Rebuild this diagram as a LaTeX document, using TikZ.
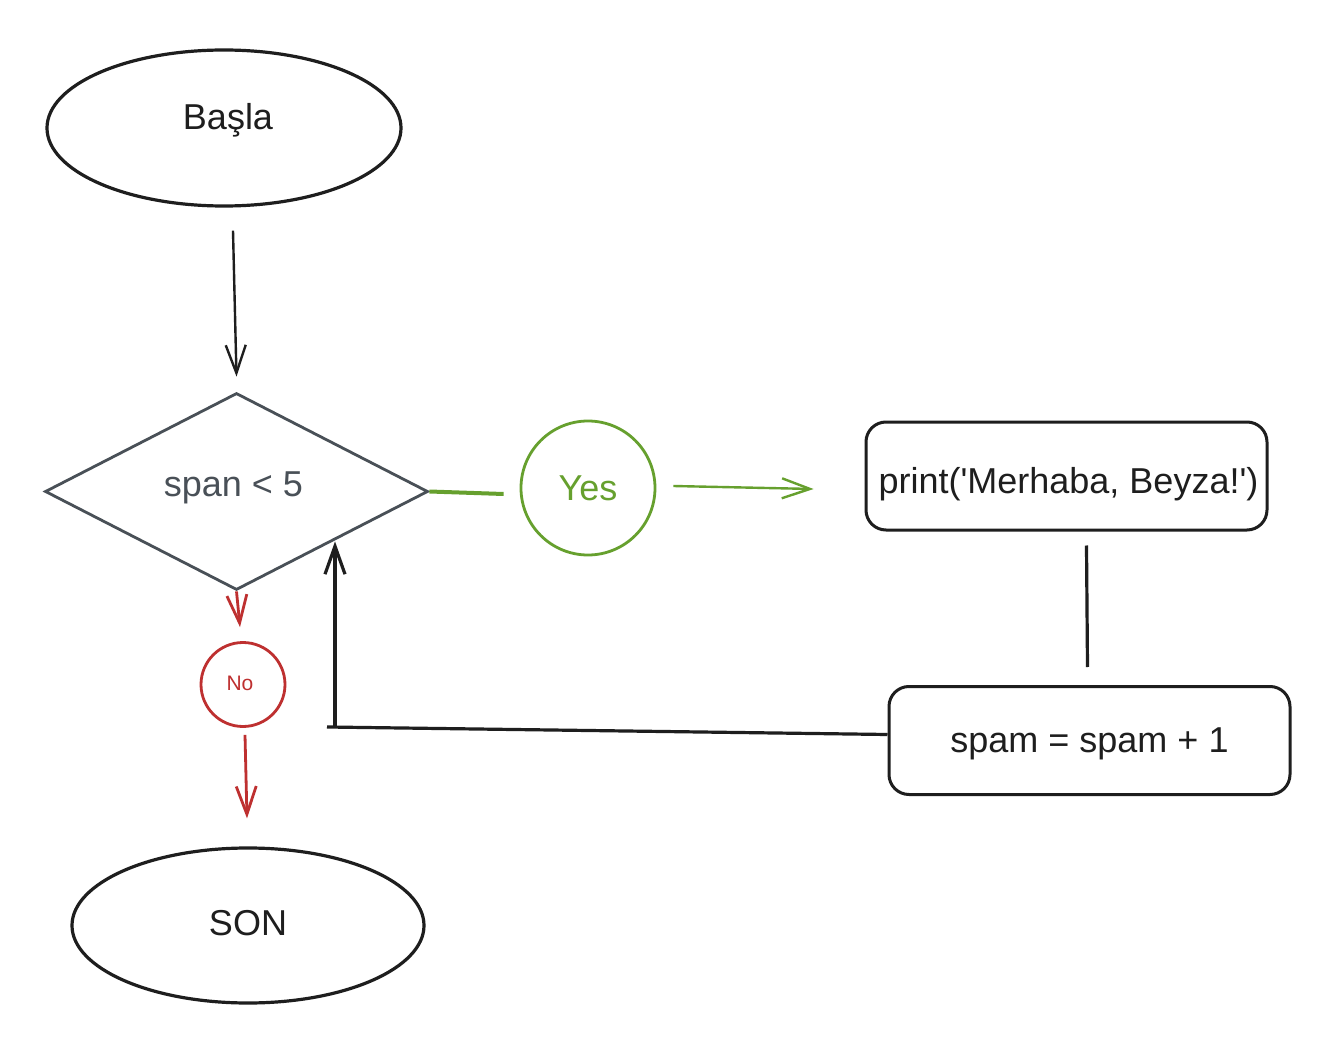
\documentclass[tikz,border=0pt]{standalone}
\usepackage{fontspec}
\setmainfont{Liberation Sans}[Ligatures=TeXOff]
\usetikzlibrary{shapes.geometric,arrows.meta}
\definecolor{ink}{HTML}{1E1E1E}
\definecolor{slate}{HTML}{495057}
\definecolor{leaf}{HTML}{66A02E}
\definecolor{brick}{HTML}{BE3030}
\begin{document}
\begin{tikzpicture}[x=0.5pt,y=-0.5pt,
  every node/.style={font=\fontsize{18}{22}\selectfont, text=ink, inner sep=0pt},
  terminal/.style={draw=ink, line width=1.6pt, ellipse, minimum width=177pt, minimum height=78pt},
  decision/.style={draw=slate, line width=1.4pt, diamond, minimum width=191.5pt, minimum height=98.5pt},
  process/.style={draw=ink, line width=1.5pt, rectangle, rounded corners=10pt, minimum width=200.5pt, minimum height=54pt},
  badge/.style={circle, line width=1.4pt, draw},
  flow/.style={line width=1.2pt, -{Straight Barb[length=14pt,width=10pt]}},
  link/.style={line width=1.6pt},
]
\fill[white] (0,0) rectangle (1330,1038);
\useasboundingbox (0,0) rectangle (1330,1038);

% shapes
\node[terminal] (start) at (224,128) {};
\node[decision] (dec) at (236.5,491.5) {};
\node[badge, draw=leaf, minimum size=67pt] (yes) at (588,488) {};
\node[process] (print) at (1066.5,476) {};
\node[process] (spam) at (1089.5,740.5) {};
\node[badge, draw=brick, minimum size=42pt] (no) at (243,684.5) {};
\node[terminal, minimum width=176pt, minimum height=77.5pt] (son) at (248,925.5) {};

% texts
\node (start-text) at ([shift={(4,-8)}]start.center) {Başla};
\node[text=slate] (dec-text) at ([shift={(-3,-4)}]dec.center) {span < 5};
\node[text=leaf] (yes-text) at (yes.center) {Yes};
\node (print-text) at ([shift={(2,8)}]print.center) {print('Merhaba, Beyza!')};
\node (spam-text) at ([shift={(0,3)}]spam.center) {spam = spam + 1};
\node[text=brick, font=\fontsize{10.5}{12}\selectfont] (no-text) at ([shift={(-3,-1)}]no.center) {No};
\node (son-text) at ([shift={(0,-2)}]son.center) {SON};

% connectors
\draw[flow, ink] ([xshift=4.5pt,yshift=-11.5pt]start.south) -- ([yshift=7.5pt]dec.north);
\draw[link, line width=2pt, leaf] (dec.east) -- ([xshift=-8pt,yshift=-3pt]yes.west);
\draw[flow, leaf] ([xshift=8.5pt,yshift=1pt]yes.east) -- ([xshift=-25.5pt,yshift=-6.5pt]print.west);
\draw[link, ink] ([xshift=10pt,yshift=-7pt]print.south) -- ([xshift=-1pt,yshift=9pt]spam.north);
\coordinate (turn) at (335,727);
\coordinate (tail) at (327,727);
\draw[link, ink] ([yshift=3pt]spam.west) -- (tail);
\draw[flow, link, ink] (turn) -- (turn |- dec.south east);
\draw[flow, line width=1.4pt, brick] (dec.south) -- ([xshift=-1.5pt,yshift=7pt]no.north);
\draw[flow, line width=1.4pt, brick] ([xshift=1pt,yshift=-3.5pt]no.south) -- ([xshift=-0.5pt,yshift=14pt]son.north);
\end{tikzpicture}
\end{document}
